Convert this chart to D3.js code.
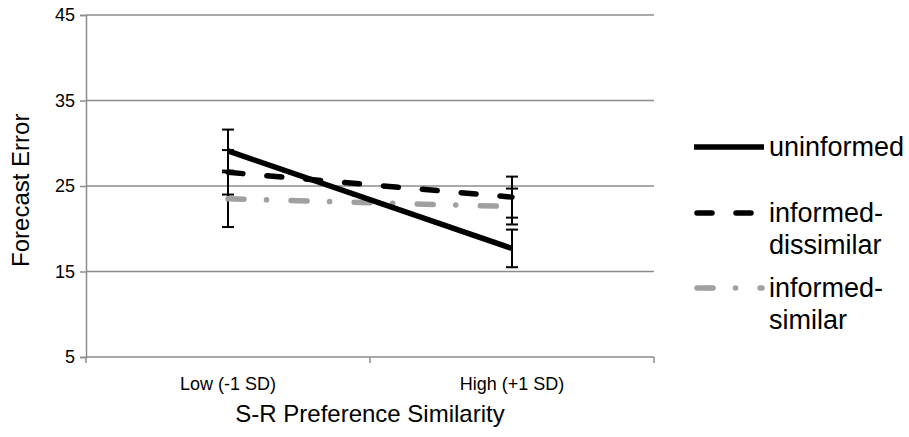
<!DOCTYPE html>
<html>
<head>
<meta charset="utf-8">
<script src="https://cdn.jsdelivr.net/npm/d3@7"></script>
<style>
  body { margin: 0; background: #fff; }
  text { font-family: "Liberation Sans", Arial, sans-serif; fill: #000; }
</style>
</head>
<body>
<svg id="chart" width="909" height="437"></svg>
<script>
var categories = ['Low (-1 SD)', 'High (+1 SD)'];
var yTicks = [5, 15, 25, 35, 45];

var seriesNames = ['uninformed', 'informed-dissimilar', 'informed-similar'];
var uninformed = [29.1, 17.7];
var uninformedErr = [2.5, 2.2];
var dissimilar = [26.6, 23.7];
var dissimilarErr = [2.6, 2.4];
var similar = [23.5, 22.6];
var similarErr = [3.3, 2.1];

var series = [
  { name: seriesNames[0], label: ['uninformed'], values: uninformed, errs: uninformedErr,
    color: '#000', dash: null, cap: 'butt', legendEnd: 764 },
  { name: seriesNames[1], label: ['informed-', 'dissimilar'], values: dissimilar, errs: dissimilarErr,
    color: '#000', dash: '15,24', cap: 'round', legendEnd: 756 },
  { name: seriesNames[2], label: ['informed-', 'similar'], values: similar, errs: similarErr,
    color: '#a0a0a0', dash: '16,22.5,0.1,24.5', cap: 'round', legendEnd: 762 }
];

var svg = d3.select('#chart');
var plotLeft = 86, plotRight = 654, plotTop = 15, plotBottom = 357;
var gridColor = '#8c8c8c';

var x = d3.scaleBand().domain(categories).range([plotLeft, plotRight]);
var y = d3.scaleLinear().domain([5, 45]).range([plotBottom, plotTop]);

// gridlines
svg.append('g')
   .selectAll('line')
   .data(yTicks)
   .enter().append('line')
   .attr('x1', plotLeft).attr('x2', plotRight)
   .attr('y1', function (d) { return y(d); })
   .attr('y2', function (d) { return y(d); })
   .attr('stroke', gridColor).attr('stroke-width', 1.5);

var yAxis = svg.append('g')
   .attr('transform', 'translate(' + plotLeft + ',0)')
   .call(d3.axisLeft(y).tickValues(yTicks).tickSize(6).tickPadding(5));
yAxis.select('.domain').attr('stroke', gridColor).attr('stroke-width', 1.5);
yAxis.selectAll('.tick line').attr('stroke', gridColor).attr('stroke-width', 1.5);
yAxis.selectAll('.tick text')
     .style('font-size', '18px')
     .style('font-family', '"Liberation Sans", Arial, sans-serif');

var xAxis = svg.append('g')
   .attr('transform', 'translate(0,' + plotBottom + ')')
   .call(d3.axisBottom(x).tickSize(0).tickPadding(20));
xAxis.select('.domain').remove();
xAxis.selectAll('.tick text')
     .style('font-size', '18px')
     .style('font-family', '"Liberation Sans", Arial, sans-serif');

// category boundary ticks
svg.append('g')
   .selectAll('line')
   .data([plotLeft, x(categories[1]), plotRight])
   .enter().append('line')
   .attr('x1', function (d) { return d; }).attr('x2', function (d) { return d; })
   .attr('y1', plotBottom).attr('y2', plotBottom + 6)
   .attr('stroke', gridColor).attr('stroke-width', 1.5);

// axis titles
svg.append('text')
   .attr('transform', 'translate(29,' + y(24.5) + ') rotate(-90)')
   .attr('text-anchor', 'middle')
   .style('font-size', '24px')
   .text('Forecast Error');

svg.append('text')
   .attr('x', (plotLeft + plotRight) / 2).attr('y', 422)
   .attr('text-anchor', 'middle')
   .style('font-size', '24px')
   .text('S-R Preference Similarity');

var cx = function (i) { return x(categories[i]) + x.bandwidth() / 2; };

// error bars
series.forEach(function (s) {
  var g = svg.append('g');
  s.values.forEach(function (v, i) {
    var px = cx(i);
    g.append('line')
     .attr('x1', px).attr('x2', px)
     .attr('y1', y(v + s.errs[i])).attr('y2', y(v - s.errs[i]))
     .attr('stroke', '#000').attr('stroke-width', 2);
    [v + s.errs[i], v - s.errs[i]].forEach(function (e) {
      g.append('line')
       .attr('x1', px - 6).attr('x2', px + 6)
       .attr('y1', y(e)).attr('y2', y(e))
       .attr('stroke', '#000').attr('stroke-width', 2);
    });
  });
});

// series lines
var line = d3.line()
   .x(function (d, i) { return cx(i); })
   .y(function (d) { return y(d); });

series.slice().reverse().forEach(function (s) {
  svg.append('path')
     .datum(s.values)
     .attr('d', line)
     .attr('fill', 'none')
     .attr('stroke', s.color)
     .attr('stroke-width', 5.5)
     .attr('stroke-linecap', s.cap)
     .attr('stroke-dasharray', s.dash);
});

// legend
var legendY = [147, 213, 288];
series.forEach(function (s, i) {
  var g = svg.append('g').attr('transform', 'translate(0,' + legendY[i] + ')');
  g.append('line')
   .attr('x1', s.cap === 'round' ? 697 : 694).attr('x2', s.legendEnd)
   .attr('y1', 0).attr('y2', 0)
   .attr('stroke', s.color).attr('stroke-width', 5.5)
   .attr('stroke-linecap', s.cap)
   .attr('stroke-dasharray', s.dash);
  s.label.forEach(function (t, j) {
    g.append('text')
     .attr('x', 769).attr('y', j * 31.5 + 9)
     .style('font-size', '27px')
     .text(t);
  });
});
</script>
</body>
</html>
